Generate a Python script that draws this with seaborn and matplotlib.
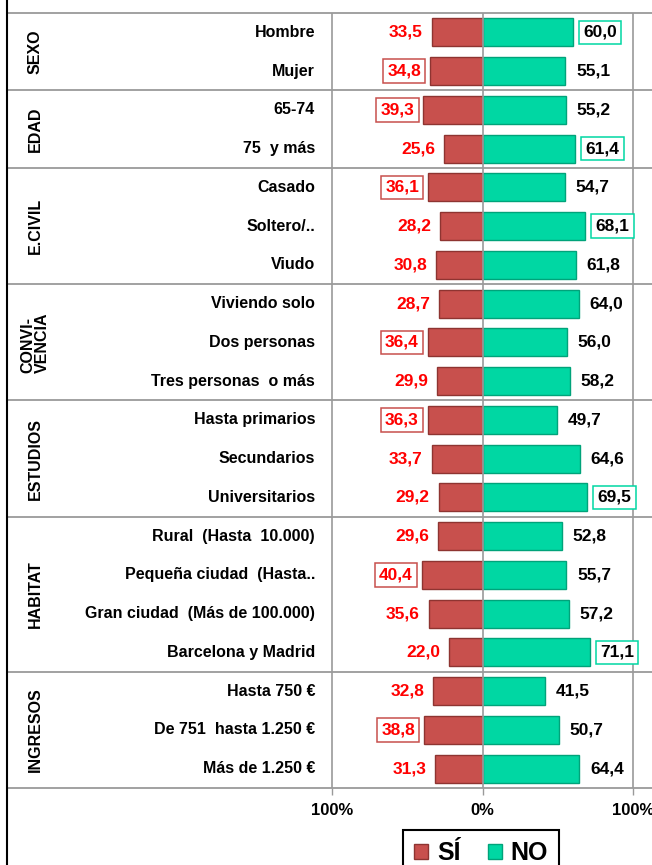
import matplotlib
matplotlib.use("Agg")
import matplotlib.pyplot as plt
import seaborn as sns
import pandas as pd
from matplotlib.lines import Line2D
from matplotlib.patches import Patch

plt.rcParams["font.family"] = ["Liberation Sans", "DejaVu Sans"]

# ---------------- data ----------------
groups = ["SEXO", "EDAD", "E.CIVIL", "CONVI-\nVENCIA", "ESTUDIOS", "HABITAT", "INGRESOS"]
group_sizes = [2, 2, 3, 3, 3, 4, 3]
categories = ["Hombre", "Mujer",
              "65-74", "75  y más",
              "Casado", "Soltero/..", "Viudo",
              "Viviendo solo", "Dos personas", "Tres personas  o más",
              "Hasta primarios", "Secundarios", "Universitarios",
              "Rural  (Hasta  10.000)", "Pequeña ciudad  (Hasta..",
              "Gran ciudad  (Más de 100.000)", "Barcelona y Madrid",
              "Hasta 750 €", "De 751  hasta 1.250 €", "Más de 1.250 €"]
si = [33.5, 34.8, 39.3, 25.6, 36.1, 28.2, 30.8, 28.7, 36.4, 29.9,
      36.3, 33.7, 29.2, 29.6, 40.4, 35.6, 22.0, 32.8, 38.8, 31.3]
no = [60.0, 55.1, 55.2, 61.4, 54.7, 68.1, 61.8, 64.0, 56.0, 58.2,
      49.7, 64.6, 69.5, 52.8, 55.7, 57.2, 71.1, 41.5, 50.7, 64.4]
si_boxed = ["Mujer", "65-74", "Casado", "Dos personas", "Hasta primarios",
            "Pequeña ciudad  (Hasta..", "De 751  hasta 1.250 €"]
no_boxed = ["Hombre", "75  y más", "Soltero/..", "Universitarios", "Barcelona y Madrid"]
xticks = [-100, 0, 100]
xtick_labels = ["100%", "0%", "100%"]
series_names = ["SÍ", "NO"]

# ---------------- style ----------------
RED = "#C8504D"
RED_EDGE = "#8E3431"
GREEN = "#00D7A3"
GREEN_EDGE = "#00A37A"
GRID = "#9A9A9A"

df = pd.DataFrame({"cat": categories, "si": [-v for v in si], "no": no})

W, H = 652, 865
fig = plt.figure(figsize=(W / 100, H / 100), dpi=100)
ax_left_px, ax_right_px, ax_top_px, ax_bot_px = 7, 652, 13, 788
ax = fig.add_axes([ax_left_px / W, (H - ax_bot_px) / H,
                   (ax_right_px - ax_left_px) / W, (ax_bot_px - ax_top_px) / H])

zero_px, scale = 482.5, 1.506
def px2d(px):
    return (px - zero_px) / scale

sns.barplot(data=df, x="si", y="cat", orient="h", color=RED, saturation=1,
            width=0.72, edgecolor=RED_EDGE, linewidth=1.0, ax=ax, zorder=3)
sns.barplot(data=df, x="no", y="cat", orient="h", color=GREEN, saturation=1,
            width=0.72, edgecolor=GREEN_EDGE, linewidth=1.0, ax=ax, zorder=3)

n = len(categories)
ax.set_xlim(px2d(ax_left_px), px2d(ax_right_px))
ax.set_ylim(n - 0.5, -0.5)
ax.set_xlabel("")
ax.set_ylabel("")
ax.set_yticks([])
ax.set_xticks(xticks)
ax.set_xticklabels(xtick_labels, fontsize=12, fontweight="bold")
ax.tick_params(axis="x", length=5, width=1, color=GRID, pad=6)

for s in ["left", "right"]:
    ax.spines[s].set_visible(False)
for s in ["top", "bottom"]:
    ax.spines[s].set_color(GRID)
    ax.spines[s].set_linewidth(1.3)

for xv in xticks:
    ax.axvline(xv, color=GRID, lw=1.2, zorder=4 if xv == 0 else 1)

# group separators and labels
start = 0
for g, size in zip(groups, group_sizes):
    end = start + size
    if end < n:
        ax.axhline(end - 0.5, color=GRID, lw=1.3, zorder=1)
    center = (start + end - 1) / 2
    ax.text(px2d(35), center, g, rotation=90, ha="center", va="center",
            fontsize=11.5, fontweight="bold", multialignment="left", linespacing=0.95)
    start = end

# category labels and values
for i, (cat, s, o) in enumerate(zip(categories, si, no)):
    ax.text(px2d(315), i, cat, ha="right", va="center", fontsize=11.5, fontweight="bold")
    kw = {}
    if cat in si_boxed:
        kw["bbox"] = dict(boxstyle="square,pad=0.25", fc="white", ec=RED, lw=1.1)
    ax.text(-s - 6, i, f"{s:.1f}".replace(".", ","), ha="right", va="center",
            fontsize=12.5, fontweight="bold", color="#FF0000", zorder=5, **kw)
    kw = {}
    if cat in no_boxed:
        kw["bbox"] = dict(boxstyle="square,pad=0.25", fc="white", ec=GREEN, lw=1.1)
    ax.text(o + 7, i, f"{o:.1f}".replace(".", ","), ha="left", va="center",
            fontsize=12.5, fontweight="bold", color="black", zorder=5, **kw)

# left border line
fig.add_artist(Line2D([ax_left_px / W] * 2, [0, 1], color="black", lw=1.5,
                      transform=fig.transFigure))

# legend
handles = [Patch(facecolor=RED, edgecolor=RED_EDGE, label=series_names[0]),
           Patch(facecolor=GREEN, edgecolor=GREEN_EDGE, label=series_names[1])]
leg = fig.legend(handles=handles, loc="upper left",
                 bbox_to_anchor=(403 / W, 1 - 830 / H), ncol=2, frameon=True,
                 fancybox=False, edgecolor="black", framealpha=1,
                 prop=dict(size=18, weight="bold"), handlelength=0.56,
                 handleheight=0.6, handletextpad=0.35, columnspacing=1.1,
                 borderpad=0.45, borderaxespad=0)
leg.get_frame().set_linewidth(1.5)

fig.savefig("out.png", dpi=100)
